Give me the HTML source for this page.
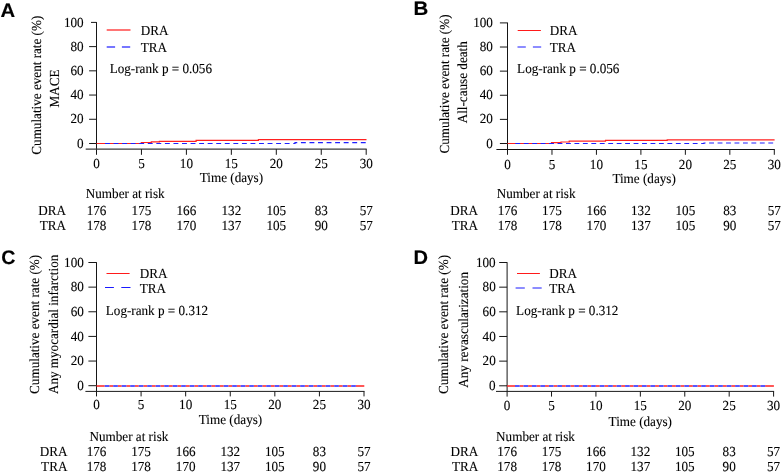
<!DOCTYPE html>
<html><head><meta charset="utf-8"><style>
html,body{margin:0;padding:0;background:#fff;}
svg{display:block;will-change:transform;}
text{font-family:'Liberation Serif',serif;font-size:13.15px;fill:#000;stroke:#000;stroke-width:0.1px;text-rendering:geometricPrecision;}
</style></head><body>
<svg width="782" height="472" viewBox="0 0 782 472">
<rect width="782" height="472" fill="#fff"/>
<text transform="translate(0.40,16.80) scale(1.04,1)" style="font-family:'Liberation Sans',sans-serif;font-size:19.5px;font-weight:bold;stroke-width:0.15px">A</text>
<line x1="96.50" y1="22.10" x2="96.50" y2="154.80" stroke="#161616" stroke-width="1" />
<line x1="89.10" y1="143.50" x2="96.50" y2="143.50" stroke="#161616" stroke-width="1" />
<text transform="translate(83.60,147.60) scale(1,1.05)" text-anchor="end">0</text>
<line x1="89.10" y1="119.28" x2="96.50" y2="119.28" stroke="#161616" stroke-width="1" />
<text transform="translate(83.60,123.38) scale(1,1.05)" text-anchor="end">20</text>
<line x1="89.10" y1="95.06" x2="96.50" y2="95.06" stroke="#161616" stroke-width="1" />
<text transform="translate(83.60,99.16) scale(1,1.05)" text-anchor="end">40</text>
<line x1="89.10" y1="70.84" x2="96.50" y2="70.84" stroke="#161616" stroke-width="1" />
<text transform="translate(83.60,74.94) scale(1,1.05)" text-anchor="end">60</text>
<line x1="89.10" y1="46.62" x2="96.50" y2="46.62" stroke="#161616" stroke-width="1" />
<text transform="translate(83.60,50.72) scale(1,1.05)" text-anchor="end">80</text>
<line x1="91.00" y1="22.40" x2="96.50" y2="22.40" stroke="#161616" stroke-width="1" />
<text transform="translate(83.60,26.50) scale(1,1.05)" text-anchor="end">100</text>
<line x1="85.70" y1="149.20" x2="366.70" y2="149.20" stroke="#3a3a3a" stroke-width="1.2" />
<text transform="translate(96.50,167.80) scale(1,1.05)" text-anchor="middle">0</text>
<line x1="141.45" y1="149.20" x2="141.45" y2="154.80" stroke="#161616" stroke-width="1" />
<text transform="translate(141.45,167.80) scale(1,1.05)" text-anchor="middle">5</text>
<line x1="186.40" y1="149.20" x2="186.40" y2="154.80" stroke="#161616" stroke-width="1" />
<text transform="translate(186.40,167.80) scale(1,1.05)" text-anchor="middle">10</text>
<line x1="231.35" y1="149.20" x2="231.35" y2="154.80" stroke="#161616" stroke-width="1" />
<text transform="translate(231.35,167.80) scale(1,1.05)" text-anchor="middle">15</text>
<line x1="276.30" y1="149.20" x2="276.30" y2="154.80" stroke="#161616" stroke-width="1" />
<text transform="translate(276.30,167.80) scale(1,1.05)" text-anchor="middle">20</text>
<line x1="321.25" y1="149.20" x2="321.25" y2="154.80" stroke="#161616" stroke-width="1" />
<text transform="translate(321.25,167.80) scale(1,1.05)" text-anchor="middle">25</text>
<line x1="366.20" y1="149.20" x2="366.20" y2="154.80" stroke="#161616" stroke-width="1" />
<text transform="translate(366.20,167.80) scale(1,1.05)" text-anchor="middle">30</text>
<text transform="translate(231.40,181.60) scale(1,1.05)" text-anchor="middle">Time (days)</text>
<text transform="translate(85.80,198.40) scale(1,1.05)" text-anchor="start">Number at risk</text>
<text transform="translate(66.00,214.50) scale(1,1.05)" text-anchor="end">DRA</text>
<text transform="translate(66.00,230.30) scale(1,1.05)" text-anchor="end">TRA</text>
<text transform="translate(96.50,214.50) scale(1,1.05)" text-anchor="middle">176</text>
<text transform="translate(96.50,230.30) scale(1,1.05)" text-anchor="middle">178</text>
<text transform="translate(141.45,214.50) scale(1,1.05)" text-anchor="middle">175</text>
<text transform="translate(141.45,230.30) scale(1,1.05)" text-anchor="middle">178</text>
<text transform="translate(186.40,214.50) scale(1,1.05)" text-anchor="middle">166</text>
<text transform="translate(186.40,230.30) scale(1,1.05)" text-anchor="middle">170</text>
<text transform="translate(231.35,214.50) scale(1,1.05)" text-anchor="middle">132</text>
<text transform="translate(231.35,230.30) scale(1,1.05)" text-anchor="middle">137</text>
<text transform="translate(276.30,214.50) scale(1,1.05)" text-anchor="middle">105</text>
<text transform="translate(276.30,230.30) scale(1,1.05)" text-anchor="middle">105</text>
<text transform="translate(321.25,214.50) scale(1,1.05)" text-anchor="middle">83</text>
<text transform="translate(321.25,230.30) scale(1,1.05)" text-anchor="middle">90</text>
<text transform="translate(366.20,214.50) scale(1,1.05)" text-anchor="middle">57</text>
<text transform="translate(366.20,230.30) scale(1,1.05)" text-anchor="middle">57</text>
<line x1="106.70" y1="30.00" x2="130.50" y2="30.00" stroke="#ff1a1a" stroke-width="1.2" />
<line x1="106.70" y1="47.00" x2="115.10" y2="47.00" stroke="#1a1aff" stroke-width="1.2" />
<line x1="121.90" y1="47.00" x2="130.20" y2="47.00" stroke="#1a1aff" stroke-width="1.2" />
<text transform="translate(140.70,34.60) scale(1,1.05)" text-anchor="start">DRA</text>
<text transform="translate(140.70,52.30) scale(1,1.05)" text-anchor="start">TRA</text>
<text transform="translate(109.70,73.30) scale(1,1.05)" text-anchor="start">Log-rank p = 0.056</text>
<text transform="translate(41.10,154.70) rotate(-90) scale(1,1.05)">Cumulative event rate (%)</text>
<text transform="translate(58.80,107.40) rotate(-90) scale(1,1.05)">MACE</text>
<path d="M96.50,143.50 H141.30 V142.50 H151.30 V141.90 H159.40 V141.30 H196.10 V140.30 H258.40 V139.60 H366.50" fill="none" stroke="#ff2020" stroke-width="1.2"/>
<path d="M105.00,143.50 H295.00 V142.60 H366.50" fill="none" stroke="#2020ff" stroke-width="1.2" stroke-dasharray="4.9 3.657"/>
<text transform="translate(413.50,15.00) scale(1.05,1)" style="font-family:'Liberation Sans',sans-serif;font-size:19.5px;font-weight:bold;stroke-width:0.15px">B</text>
<line x1="507.50" y1="22.60" x2="507.50" y2="154.80" stroke="#161616" stroke-width="1" />
<line x1="499.90" y1="143.50" x2="507.50" y2="143.50" stroke="#161616" stroke-width="1" />
<text transform="translate(492.90,147.60) scale(1,1.05)" text-anchor="end">0</text>
<line x1="499.90" y1="119.38" x2="507.50" y2="119.38" stroke="#161616" stroke-width="1" />
<text transform="translate(492.90,123.48) scale(1,1.05)" text-anchor="end">20</text>
<line x1="499.90" y1="95.26" x2="507.50" y2="95.26" stroke="#161616" stroke-width="1" />
<text transform="translate(492.90,99.36) scale(1,1.05)" text-anchor="end">40</text>
<line x1="499.90" y1="71.14" x2="507.50" y2="71.14" stroke="#161616" stroke-width="1" />
<text transform="translate(492.90,75.24) scale(1,1.05)" text-anchor="end">60</text>
<line x1="499.90" y1="47.02" x2="507.50" y2="47.02" stroke="#161616" stroke-width="1" />
<text transform="translate(492.90,51.12) scale(1,1.05)" text-anchor="end">80</text>
<line x1="499.90" y1="22.90" x2="507.50" y2="22.90" stroke="#161616" stroke-width="1" />
<text transform="translate(492.90,27.00) scale(1,1.05)" text-anchor="end">100</text>
<line x1="496.40" y1="149.50" x2="774.80" y2="149.50" stroke="#111" stroke-width="1.0" />
<text transform="translate(507.50,168.50) scale(1,1.05)" text-anchor="middle">0</text>
<line x1="551.97" y1="149.50" x2="551.97" y2="154.80" stroke="#161616" stroke-width="1" />
<text transform="translate(551.97,168.50) scale(1,1.05)" text-anchor="middle">5</text>
<line x1="596.43" y1="149.50" x2="596.43" y2="154.80" stroke="#161616" stroke-width="1" />
<text transform="translate(596.43,168.50) scale(1,1.05)" text-anchor="middle">10</text>
<line x1="640.90" y1="149.50" x2="640.90" y2="154.80" stroke="#161616" stroke-width="1" />
<text transform="translate(640.90,168.50) scale(1,1.05)" text-anchor="middle">15</text>
<line x1="685.37" y1="149.50" x2="685.37" y2="154.80" stroke="#161616" stroke-width="1" />
<text transform="translate(685.37,168.50) scale(1,1.05)" text-anchor="middle">20</text>
<line x1="729.83" y1="149.50" x2="729.83" y2="154.80" stroke="#161616" stroke-width="1" />
<text transform="translate(729.83,168.50) scale(1,1.05)" text-anchor="middle">25</text>
<line x1="774.30" y1="149.50" x2="774.30" y2="154.80" stroke="#161616" stroke-width="1" />
<text transform="translate(774.30,168.50) scale(1,1.05)" text-anchor="middle">30</text>
<text transform="translate(644.10,182.80) scale(1,1.05)" text-anchor="middle">Time (days)</text>
<text transform="translate(496.70,198.40) scale(1,1.05)" text-anchor="start">Number at risk</text>
<text transform="translate(478.00,214.50) scale(1,1.05)" text-anchor="end">DRA</text>
<text transform="translate(478.00,230.30) scale(1,1.05)" text-anchor="end">TRA</text>
<text transform="translate(507.50,214.50) scale(1,1.05)" text-anchor="middle">176</text>
<text transform="translate(507.50,230.30) scale(1,1.05)" text-anchor="middle">178</text>
<text transform="translate(551.97,214.50) scale(1,1.05)" text-anchor="middle">175</text>
<text transform="translate(551.97,230.30) scale(1,1.05)" text-anchor="middle">178</text>
<text transform="translate(596.43,214.50) scale(1,1.05)" text-anchor="middle">166</text>
<text transform="translate(596.43,230.30) scale(1,1.05)" text-anchor="middle">170</text>
<text transform="translate(640.90,214.50) scale(1,1.05)" text-anchor="middle">132</text>
<text transform="translate(640.90,230.30) scale(1,1.05)" text-anchor="middle">137</text>
<text transform="translate(685.37,214.50) scale(1,1.05)" text-anchor="middle">105</text>
<text transform="translate(685.37,230.30) scale(1,1.05)" text-anchor="middle">105</text>
<text transform="translate(729.83,214.50) scale(1,1.05)" text-anchor="middle">83</text>
<text transform="translate(729.83,230.30) scale(1,1.05)" text-anchor="middle">90</text>
<text transform="translate(774.30,214.50) scale(1,1.05)" text-anchor="middle">57</text>
<text transform="translate(774.30,230.30) scale(1,1.05)" text-anchor="middle">57</text>
<line x1="517.70" y1="30.50" x2="540.90" y2="30.50" stroke="#ff1a1a" stroke-width="1.0" />
<line x1="517.50" y1="47.00" x2="525.80" y2="47.00" stroke="#1a1aff" stroke-width="1.0" />
<line x1="532.90" y1="47.00" x2="541.20" y2="47.00" stroke="#1a1aff" stroke-width="1.0" />
<text transform="translate(549.80,34.60) scale(1,1.05)" text-anchor="start">DRA</text>
<text transform="translate(549.80,52.30) scale(1,1.05)" text-anchor="start">TRA</text>
<text transform="translate(517.10,72.50) scale(1,1.05)" text-anchor="start">Log-rank p = 0.056</text>
<text transform="translate(448.60,153.50) rotate(-90) scale(1,1.05)">Cumulative event rate (%)</text>
<text transform="translate(467.00,123.30) rotate(-90) scale(1,1.05)">All-cause death</text>
<path d="M507.50,143.50 H551.50 V142.60 H561.00 V142.00 H569.20 V141.20 H605.50 V140.40 H667.20 V139.80 H774.60" fill="none" stroke="#ff2020" stroke-width="1.2"/>
<path d="M515.30,143.50 H704.00 V143.00 H774.60" fill="none" stroke="#2020ff" stroke-width="1.2" stroke-dasharray="4.85 3.6"/>
<text transform="translate(1.30,263.50) scale(1.0,1)" style="font-family:'Liberation Sans',sans-serif;font-size:19.5px;font-weight:bold;stroke-width:0.15px">C</text>
<line x1="96.50" y1="262.20" x2="96.50" y2="396.40" stroke="#161616" stroke-width="1" />
<line x1="88.40" y1="385.70" x2="96.50" y2="385.70" stroke="#161616" stroke-width="1" />
<text transform="translate(83.80,389.80) scale(1,1.05)" text-anchor="end">0</text>
<line x1="88.40" y1="361.06" x2="96.50" y2="361.06" stroke="#161616" stroke-width="1" />
<text transform="translate(83.80,365.16) scale(1,1.05)" text-anchor="end">20</text>
<line x1="88.40" y1="336.42" x2="96.50" y2="336.42" stroke="#161616" stroke-width="1" />
<text transform="translate(83.80,340.52) scale(1,1.05)" text-anchor="end">40</text>
<line x1="88.40" y1="311.78" x2="96.50" y2="311.78" stroke="#161616" stroke-width="1" />
<text transform="translate(83.80,315.88) scale(1,1.05)" text-anchor="end">60</text>
<line x1="88.40" y1="287.14" x2="96.50" y2="287.14" stroke="#161616" stroke-width="1" />
<text transform="translate(83.80,291.24) scale(1,1.05)" text-anchor="end">80</text>
<line x1="88.40" y1="262.50" x2="96.50" y2="262.50" stroke="#161616" stroke-width="1" />
<text transform="translate(83.80,266.60) scale(1,1.05)" text-anchor="end">100</text>
<line x1="85.40" y1="391.40" x2="364.50" y2="391.40" stroke="#1a1a1a" stroke-width="1.0" />
<text transform="translate(96.50,409.40) scale(1,1.05)" text-anchor="middle">0</text>
<line x1="141.08" y1="391.40" x2="141.08" y2="396.40" stroke="#161616" stroke-width="1" />
<text transform="translate(141.08,409.40) scale(1,1.05)" text-anchor="middle">5</text>
<line x1="185.67" y1="391.40" x2="185.67" y2="396.40" stroke="#161616" stroke-width="1" />
<text transform="translate(185.67,409.40) scale(1,1.05)" text-anchor="middle">10</text>
<line x1="230.25" y1="391.40" x2="230.25" y2="396.40" stroke="#161616" stroke-width="1" />
<text transform="translate(230.25,409.40) scale(1,1.05)" text-anchor="middle">15</text>
<line x1="274.83" y1="391.40" x2="274.83" y2="396.40" stroke="#161616" stroke-width="1" />
<text transform="translate(274.83,409.40) scale(1,1.05)" text-anchor="middle">20</text>
<line x1="319.42" y1="391.40" x2="319.42" y2="396.40" stroke="#161616" stroke-width="1" />
<text transform="translate(319.42,409.40) scale(1,1.05)" text-anchor="middle">25</text>
<line x1="364.00" y1="391.40" x2="364.00" y2="396.40" stroke="#161616" stroke-width="1" />
<text transform="translate(364.00,409.40) scale(1,1.05)" text-anchor="middle">30</text>
<text transform="translate(230.50,423.80) scale(1,1.05)" text-anchor="middle">Time (days)</text>
<text transform="translate(89.50,441.10) scale(1,1.05)" text-anchor="start">Number at risk</text>
<text transform="translate(67.40,455.70) scale(1,1.05)" text-anchor="end">DRA</text>
<text transform="translate(67.40,470.60) scale(1,1.05)" text-anchor="end">TRA</text>
<text transform="translate(96.50,455.70) scale(1,1.05)" text-anchor="middle">176</text>
<text transform="translate(96.50,470.60) scale(1,1.05)" text-anchor="middle">178</text>
<text transform="translate(141.08,455.70) scale(1,1.05)" text-anchor="middle">175</text>
<text transform="translate(141.08,470.60) scale(1,1.05)" text-anchor="middle">178</text>
<text transform="translate(185.67,455.70) scale(1,1.05)" text-anchor="middle">166</text>
<text transform="translate(185.67,470.60) scale(1,1.05)" text-anchor="middle">170</text>
<text transform="translate(230.25,455.70) scale(1,1.05)" text-anchor="middle">132</text>
<text transform="translate(230.25,470.60) scale(1,1.05)" text-anchor="middle">137</text>
<text transform="translate(274.83,455.70) scale(1,1.05)" text-anchor="middle">105</text>
<text transform="translate(274.83,470.60) scale(1,1.05)" text-anchor="middle">105</text>
<text transform="translate(319.42,455.70) scale(1,1.05)" text-anchor="middle">83</text>
<text transform="translate(319.42,470.60) scale(1,1.05)" text-anchor="middle">90</text>
<text transform="translate(364.00,455.70) scale(1,1.05)" text-anchor="middle">57</text>
<text transform="translate(364.00,470.60) scale(1,1.05)" text-anchor="middle">57</text>
<line x1="106.50" y1="273.50" x2="129.60" y2="273.50" stroke="#ff1a1a" stroke-width="1.0" />
<line x1="105.00" y1="287.50" x2="113.90" y2="287.50" stroke="#1a1aff" stroke-width="1.0" />
<line x1="121.30" y1="287.50" x2="130.50" y2="287.50" stroke="#1a1aff" stroke-width="1.0" />
<text transform="translate(139.80,277.70) scale(1,1.05)" text-anchor="start">DRA</text>
<text transform="translate(139.80,292.60) scale(1,1.05)" text-anchor="start">TRA</text>
<text transform="translate(105.80,314.60) scale(1,1.05)" text-anchor="start">Log-rank p = 0.312</text>
<text transform="translate(39.00,393.90) rotate(-90) scale(1,1.05)">Cumulative event rate (%)</text>
<text transform="translate(58.30,394.10) rotate(-90) scale(1,1.05)">Any myocardial infarction</text>
<path d="M96.50,386.00H104.70 M109.35,386.00H113.20 M117.85,386.00H121.70 M126.35,386.00H130.20 M134.85,386.00H138.70 M143.35,386.00H147.20 M151.85,386.00H155.70 M160.35,386.00H164.20 M168.85,386.00H172.70 M177.35,386.00H181.20 M185.85,386.00H189.70 M194.35,386.00H198.20 M202.85,386.00H206.70 M211.35,386.00H215.20 M219.85,386.00H223.70 M228.35,386.00H232.20 M236.85,386.00H240.70 M245.35,386.00H249.20 M253.85,386.00H257.70 M262.35,386.00H266.20 M270.85,386.00H274.70 M279.35,386.00H283.20 M287.85,386.00H291.70 M296.35,386.00H300.20 M304.85,386.00H308.70 M313.35,386.00H317.20 M321.85,386.00H325.70 M330.35,386.00H334.20 M338.85,386.00H342.70 M347.35,386.00H351.20 M355.85,386.00H364.30" fill="none" stroke="#ff2020" stroke-width="1.3"/>
<path d="M104.70,386.00H109.35 M113.20,386.00H117.85 M121.70,386.00H126.35 M130.20,386.00H134.85 M138.70,386.00H143.35 M147.20,386.00H151.85 M155.70,386.00H160.35 M164.20,386.00H168.85 M172.70,386.00H177.35 M181.20,386.00H185.85 M189.70,386.00H194.35 M198.20,386.00H202.85 M206.70,386.00H211.35 M215.20,386.00H219.85 M223.70,386.00H228.35 M232.20,386.00H236.85 M240.70,386.00H245.35 M249.20,386.00H253.85 M257.70,386.00H262.35 M266.20,386.00H270.85 M274.70,386.00H279.35 M283.20,386.00H287.85 M291.70,386.00H296.35 M300.20,386.00H304.85 M308.70,386.00H313.35 M317.20,386.00H321.85 M325.70,386.00H330.35 M334.20,386.00H338.85 M342.70,386.00H347.35 M351.20,386.00H355.85" fill="none" stroke="#2020ff" stroke-width="1.3"/>
<text transform="translate(413.50,263.60) scale(1.03,1)" style="font-family:'Liberation Sans',sans-serif;font-size:19.5px;font-weight:bold;stroke-width:0.15px">D</text>
<line x1="507.10" y1="262.20" x2="507.10" y2="396.60" stroke="#161616" stroke-width="1" />
<line x1="499.20" y1="385.80" x2="507.10" y2="385.80" stroke="#161616" stroke-width="1" />
<text transform="translate(495.70,389.90) scale(1,1.05)" text-anchor="end">0</text>
<line x1="499.20" y1="361.14" x2="507.10" y2="361.14" stroke="#161616" stroke-width="1" />
<text transform="translate(495.70,365.24) scale(1,1.05)" text-anchor="end">20</text>
<line x1="499.20" y1="336.48" x2="507.10" y2="336.48" stroke="#161616" stroke-width="1" />
<text transform="translate(495.70,340.58) scale(1,1.05)" text-anchor="end">40</text>
<line x1="499.20" y1="311.82" x2="507.10" y2="311.82" stroke="#161616" stroke-width="1" />
<text transform="translate(495.70,315.92) scale(1,1.05)" text-anchor="end">60</text>
<line x1="499.20" y1="287.16" x2="507.10" y2="287.16" stroke="#161616" stroke-width="1" />
<text transform="translate(495.70,291.26) scale(1,1.05)" text-anchor="end">80</text>
<line x1="499.20" y1="262.50" x2="507.10" y2="262.50" stroke="#161616" stroke-width="1" />
<text transform="translate(495.70,266.60) scale(1,1.05)" text-anchor="end">100</text>
<line x1="496.00" y1="391.40" x2="774.10" y2="391.40" stroke="#1a1a1a" stroke-width="1.0" />
<text transform="translate(507.10,409.80) scale(1,1.05)" text-anchor="middle">0</text>
<line x1="551.52" y1="391.40" x2="551.52" y2="396.60" stroke="#161616" stroke-width="1" />
<text transform="translate(551.52,409.80) scale(1,1.05)" text-anchor="middle">5</text>
<line x1="595.93" y1="391.40" x2="595.93" y2="396.60" stroke="#161616" stroke-width="1" />
<text transform="translate(595.93,409.80) scale(1,1.05)" text-anchor="middle">10</text>
<line x1="640.35" y1="391.40" x2="640.35" y2="396.60" stroke="#161616" stroke-width="1" />
<text transform="translate(640.35,409.80) scale(1,1.05)" text-anchor="middle">15</text>
<line x1="684.77" y1="391.40" x2="684.77" y2="396.60" stroke="#161616" stroke-width="1" />
<text transform="translate(684.77,409.80) scale(1,1.05)" text-anchor="middle">20</text>
<line x1="729.18" y1="391.40" x2="729.18" y2="396.60" stroke="#161616" stroke-width="1" />
<text transform="translate(729.18,409.80) scale(1,1.05)" text-anchor="middle">25</text>
<line x1="773.60" y1="391.40" x2="773.60" y2="396.60" stroke="#161616" stroke-width="1" />
<text transform="translate(773.60,409.80) scale(1,1.05)" text-anchor="middle">30</text>
<text transform="translate(640.30,425.80) scale(1,1.05)" text-anchor="middle">Time (days)</text>
<text transform="translate(496.10,441.40) scale(1,1.05)" text-anchor="start">Number at risk</text>
<text transform="translate(478.30,456.00) scale(1,1.05)" text-anchor="end">DRA</text>
<text transform="translate(478.30,470.60) scale(1,1.05)" text-anchor="end">TRA</text>
<text transform="translate(507.10,456.00) scale(1,1.05)" text-anchor="middle">176</text>
<text transform="translate(507.10,470.60) scale(1,1.05)" text-anchor="middle">178</text>
<text transform="translate(551.52,456.00) scale(1,1.05)" text-anchor="middle">175</text>
<text transform="translate(551.52,470.60) scale(1,1.05)" text-anchor="middle">178</text>
<text transform="translate(595.93,456.00) scale(1,1.05)" text-anchor="middle">166</text>
<text transform="translate(595.93,470.60) scale(1,1.05)" text-anchor="middle">170</text>
<text transform="translate(640.35,456.00) scale(1,1.05)" text-anchor="middle">132</text>
<text transform="translate(640.35,470.60) scale(1,1.05)" text-anchor="middle">137</text>
<text transform="translate(684.77,456.00) scale(1,1.05)" text-anchor="middle">105</text>
<text transform="translate(684.77,470.60) scale(1,1.05)" text-anchor="middle">105</text>
<text transform="translate(729.18,456.00) scale(1,1.05)" text-anchor="middle">83</text>
<text transform="translate(729.18,470.60) scale(1,1.05)" text-anchor="middle">90</text>
<text transform="translate(773.60,456.00) scale(1,1.05)" text-anchor="middle">57</text>
<text transform="translate(773.60,470.60) scale(1,1.05)" text-anchor="middle">57</text>
<line x1="517.00" y1="273.50" x2="539.90" y2="273.50" stroke="#ff1a1a" stroke-width="1.0" />
<line x1="515.60" y1="288.00" x2="524.80" y2="288.00" stroke="#1a1aff" stroke-width="1.0" />
<line x1="532.50" y1="288.00" x2="541.70" y2="288.00" stroke="#1a1aff" stroke-width="1.0" />
<text transform="translate(549.20,277.80) scale(1,1.05)" text-anchor="start">DRA</text>
<text transform="translate(549.20,293.00) scale(1,1.05)" text-anchor="start">TRA</text>
<text transform="translate(516.10,314.50) scale(1,1.05)" text-anchor="start">Log-rank p = 0.312</text>
<text transform="translate(447.70,394.00) rotate(-90) scale(1,1.05)">Cumulative event rate (%)</text>
<text transform="translate(467.70,387.70) rotate(-90) scale(1,1.05)">Any revascularization</text>
<path d="M507.10,386.00H515.00 M519.65,386.00H523.47 M528.12,386.00H531.93 M536.58,386.00H540.40 M545.05,386.00H548.86 M553.51,386.00H557.33 M561.98,386.00H565.80 M570.45,386.00H574.26 M578.91,386.00H582.73 M587.38,386.00H591.19 M595.84,386.00H599.66 M604.31,386.00H608.13 M612.78,386.00H616.59 M621.24,386.00H625.06 M629.71,386.00H633.52 M638.17,386.00H641.99 M646.64,386.00H650.46 M655.11,386.00H658.92 M663.57,386.00H667.39 M672.04,386.00H675.85 M680.50,386.00H684.32 M688.97,386.00H692.79 M697.44,386.00H701.25 M705.90,386.00H709.72 M714.37,386.00H718.18 M722.83,386.00H726.65 M731.30,386.00H735.12 M739.77,386.00H743.58 M748.23,386.00H752.05 M756.70,386.00H760.51 M765.16,386.00H773.90" fill="none" stroke="#ff2020" stroke-width="1.3"/>
<path d="M515.00,386.00H519.65 M523.47,386.00H528.12 M531.93,386.00H536.58 M540.40,386.00H545.05 M548.86,386.00H553.51 M557.33,386.00H561.98 M565.80,386.00H570.45 M574.26,386.00H578.91 M582.73,386.00H587.38 M591.19,386.00H595.84 M599.66,386.00H604.31 M608.13,386.00H612.78 M616.59,386.00H621.24 M625.06,386.00H629.71 M633.52,386.00H638.17 M641.99,386.00H646.64 M650.46,386.00H655.11 M658.92,386.00H663.57 M667.39,386.00H672.04 M675.85,386.00H680.50 M684.32,386.00H688.97 M692.79,386.00H697.44 M701.25,386.00H705.90 M709.72,386.00H714.37 M718.18,386.00H722.83 M726.65,386.00H731.30 M735.12,386.00H739.77 M743.58,386.00H748.23 M752.05,386.00H756.70 M760.51,386.00H765.16" fill="none" stroke="#2020ff" stroke-width="1.3"/>
</svg></body></html>
